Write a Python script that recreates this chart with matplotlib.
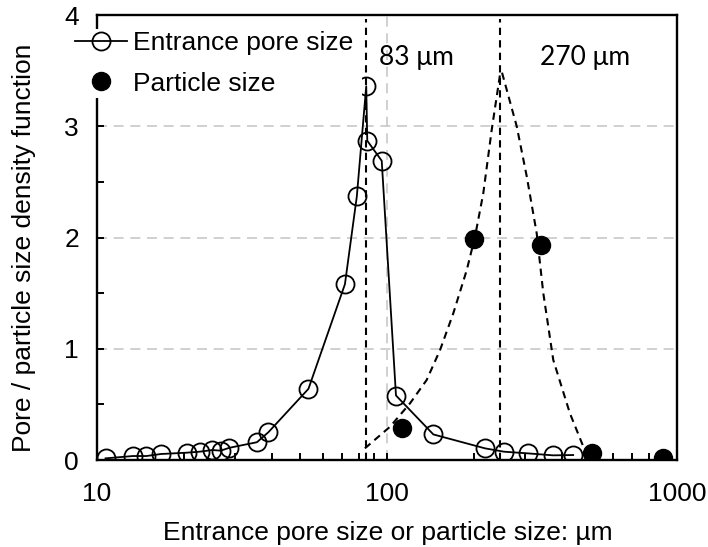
import matplotlib
matplotlib.use("Agg")
import matplotlib.pyplot as plt
from matplotlib.ticker import MultipleLocator, LogLocator, NullFormatter, FixedLocator

# entrance pore size distribution (open circles)
pore_x = [10.7, 13.3, 14.8, 16.6, 20.4, 22.6, 25.0, 26.7, 28.6, 35.6, 39.0,
          53.6, 71.6, 78.7, 84.8, 85.5, 95.9, 107.4, 144.5, 217.8, 253.0,
          305.5, 374.0, 438.5]
pore_y = [0.015, 0.036, 0.036, 0.054, 0.066, 0.075, 0.09, 0.084, 0.11, 0.16, 0.25,
          0.64, 1.58, 2.37, 3.36, 2.87, 2.69, 0.58, 0.23, 0.105, 0.075,
          0.06, 0.042, 0.045]

# particle size (filled circles)
part_x = [112.5, 200.0, 340.0, 510.0, 893.0]
part_y = [0.285, 1.99, 1.93, 0.066, 0.015]

# particle size fitted curve (dashed)
fit_x = [83.9, 102.4, 120.0, 137.0, 152.4, 169.3, 188.4, 201.1, 214.8, 229.6,
         245.5, 248.8, 280.1, 303.3, 328.2, 345.9, 374.4, 427.3, 475.4]
fit_y = [0.105, 0.299, 0.509, 0.719, 0.989, 1.319, 1.708, 2.007, 2.397, 2.966,
         3.47, 3.49, 3.0, 2.55, 2.04, 1.50, 0.90, 0.42, 0.12]

# mode lines
mode_x = [84.8, 245.7]
mode_top = 3.96
mode_labels = ["83 μm", "270 μm"]
mode_label_x = [93.8, 336.0]
mode_label_y = 3.62

plt.rcParams['font.family'] = ['Liberation Sans', 'DejaVu Sans']
FS = 19

fig = plt.figure(figsize=(7.08, 5.47), dpi=100)
ax = fig.add_axes([0.137, 0.159, 0.8192, 0.8135])

ax.plot(fit_x, fit_y, color='black', lw=1.5, dashes=(3.5, 2.5), zorder=3)
for mx in mode_x:
    ax.plot([mx, mx], [0, mode_top], color='black', lw=1.5, dashes=(3.5, 2.5), zorder=3)

ax.plot(pore_x, pore_y, color='black', lw=1.3, marker='o', markersize=13,
        markerfacecolor='none', markeredgecolor='black', markeredgewidth=1.3,
        label='Entrance pore size', zorder=4)
ax.plot(part_x, part_y, linestyle='none', marker='o', markersize=13,
        color='black', label='Particle size', zorder=4)

for lx, txt in zip(mode_label_x, mode_labels):
    ax.text(lx, mode_label_y, txt, fontsize=FS, family='Lato', ha='left', va='center')

ax.set_xscale('log')
ax.set_xlim(10, 1000)
ax.set_ylim(0, 4)
ax.xaxis.set_major_locator(FixedLocator([10, 100, 1000]))
ax.set_xticklabels(['10', '100', '1000'])
ax.xaxis.set_minor_locator(LogLocator(base=10, subs=range(2, 10)))
ax.xaxis.set_minor_formatter(NullFormatter())
ax.yaxis.set_major_locator(MultipleLocator(1))
ax.yaxis.set_minor_locator(MultipleLocator(0.5))

ax.tick_params(which='both', direction='in', length=5, width=1.4, labelsize=FS)
ax.tick_params(axis='x', which='both', pad=16)
ax.tick_params(axis='y', which='both', pad=13)
for s in ax.spines.values():
    s.set_linewidth(1.7)

ax.grid(True, which='major', color='#c8c8c8', lw=1.2, dashes=(6, 4))
ax.set_axisbelow(True)

ax.set_xlabel('Entrance pore size or particle size: µm', fontsize=FS)
ax.set_ylabel('Pore / particle size density function', fontsize=FS)
ax.xaxis.set_label_coords(0.501, -0.138)
ax.yaxis.set_label_coords(-0.105, 0.478)

leg = ax.legend(loc='upper left', bbox_to_anchor=(-0.043, 0.969, 0.50, 0.0),
                mode='expand', fontsize=FS, frameon=True, fancybox=False,
                edgecolor='none', facecolor='white', framealpha=1,
                borderpad=0.1, borderaxespad=0, handlelength=2.0,
                handletextpad=0.2, labelspacing=0.61)

fig.savefig('out.png', dpi=100)
